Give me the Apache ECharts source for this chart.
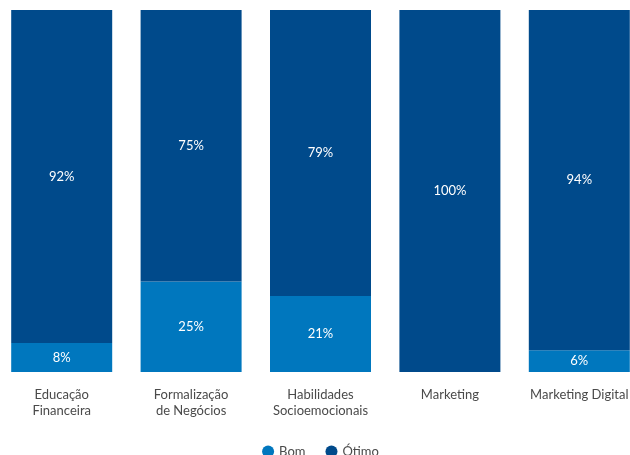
<!DOCTYPE html>
<html>
<head>
<meta charset="utf-8">
<style>
  html, body { margin: 0; padding: 0; background: #fff; overflow: hidden; width: 630px; height: 455px; }
  #chart { position: absolute; left: -3px; top: 0; width: 647px; height: 455px; }
</style>
<script src="https://cdn.jsdelivr.net/npm/echarts@6/dist/echarts.min.js"></script>
</head>
<body>
<div id="chart"></div>
<script>
// Avaliação dos cursos: percentual de respostas "Bom" e "Ótimo"
const categories = ['Educação\nFinanceira', 'Formalização\nde Negócios', 'Habilidades\nSocioemocionais', 'Marketing', 'Marketing Digital'];
const bom = [8, 25, 21, 0, 6];
const otimo = [92, 75, 79, 100, 94];

const FONT = 'Lato';

const chart = echarts.init(document.getElementById('chart'), null, { renderer: 'canvas' });

const pctLabel = {
  show: true,
  position: 'inside',
  color: '#ffffff',
  fontFamily: FONT,
  fontSize: 13,
  formatter: p => (p.value > 0 ? p.value + '%' : '')
};

chart.setOption({
  animation: false,
  textStyle: { fontFamily: FONT },
  grid: { left: 0, right: 0, top: 10, bottom: 83, containLabel: false },
  legend: {
    data: ['Bom', 'Ótimo'],
    top: 445,
    left: 'center',
    padding: 0,
    icon: 'circle',
    itemWidth: 12,
    itemHeight: 12,
    itemGap: 20,
    textStyle: { fontFamily: FONT, fontSize: 13, color: '#4a4a4a' }
  },
  xAxis: {
    type: 'category',
    data: categories,
    axisLine: { show: false },
    axisTick: { show: false },
    axisLabel: {
      interval: 0,
      margin: 15,
      color: '#4a4a4a',
      fontFamily: FONT,
      fontSize: 13,
      lineHeight: 16
    }
  },
  yAxis: {
    type: 'value',
    min: 0,
    max: 100,
    show: false,
    splitLine: { show: false }
  },
  series: [
    {
      name: 'Bom',
      type: 'bar',
      stack: 'total',
      data: bom,
      barWidth: 101,
      itemStyle: { color: '#0077be' },
      label: pctLabel
    },
    {
      name: 'Ótimo',
      type: 'bar',
      stack: 'total',
      data: otimo,
      barWidth: 101,
      itemStyle: { color: '#004a8b' },
      label: pctLabel
    }
  ]
});
</script>
</body>
</html>
